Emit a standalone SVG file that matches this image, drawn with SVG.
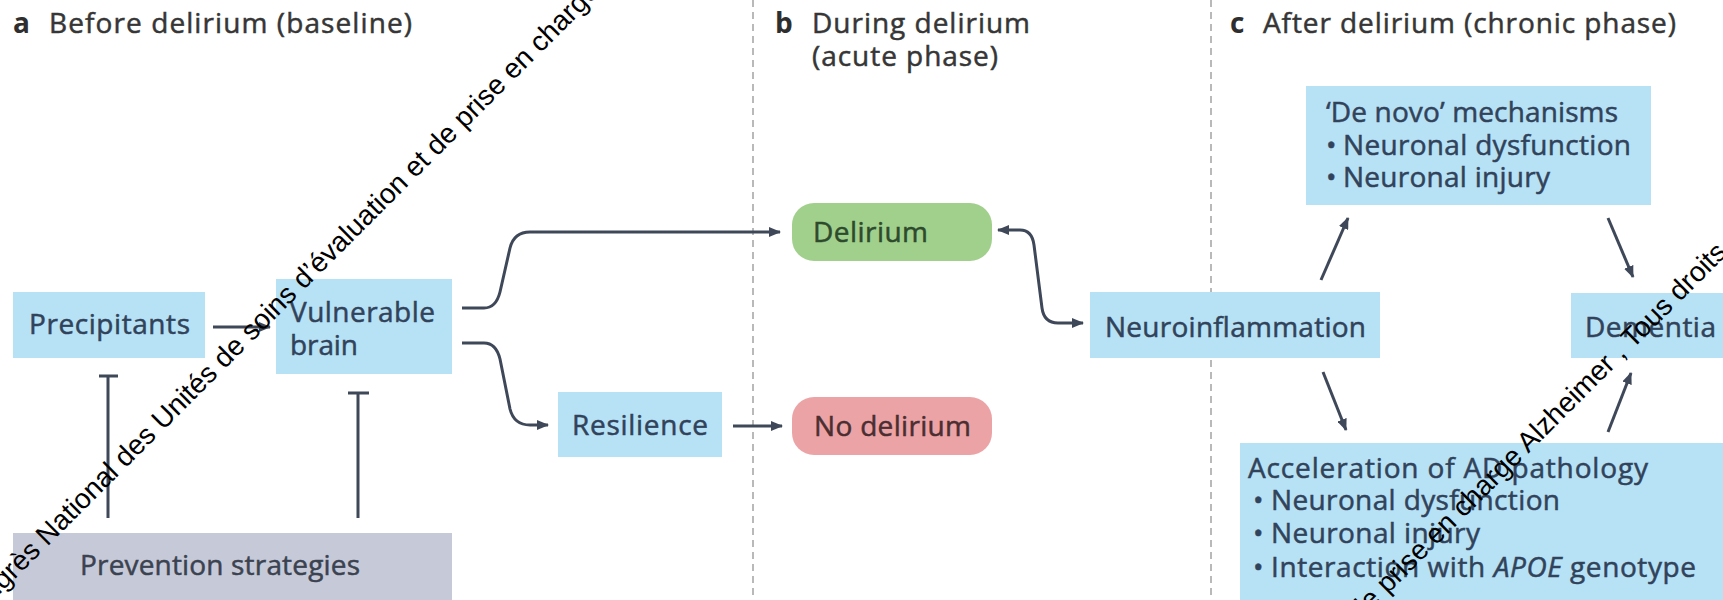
<svg xmlns="http://www.w3.org/2000/svg" width="1723" height="600" viewBox="0 0 1723 600">
<defs>
<style>
.t{font-family:"Open Sans","Liberation Sans",sans-serif;font-size:28px;fill:#363636;stroke:#363636;stroke-width:0.5}
.tb{font-family:"Open Sans","Liberation Sans",sans-serif;font-size:28px;font-weight:bold;fill:#2e2e2e}
.n{font-family:"Open Sans","Liberation Sans",sans-serif;font-size:28px;fill:#31435a;stroke:#31435a;stroke-width:0.5}
.blue{fill:#b7e1f5}
.grey{fill:#c6cad8}
.conn{fill:none;stroke:#3e4859;stroke-width:3}
.dash{fill:none;stroke:#a8a8a8;stroke-width:1.6;stroke-dasharray:7 5}
.wm{font-family:"Liberation Sans",Arial,sans-serif;font-size:28px;fill:#000}
</style>
<marker id="ah" viewBox="0 0 12 10" refX="11" refY="5" markerWidth="12" markerHeight="10" markerUnits="userSpaceOnUse" orient="auto-start-reverse">
<path d="M0,0 L12,5 L0,10 z" fill="#3e4859"/>
</marker>
</defs>
<rect width="1723" height="600" fill="#fff"/>

<g id="titles">
<text class="tb" x="13" y="33">a</text>
<text class="t" x="49" y="33" textLength="363">Before delirium (baseline)</text>
<text class="tb" x="775" y="33">b</text>
<text class="t" x="812" y="33" textLength="218">During delirium</text>
<text class="t" x="812" y="66" textLength="186">(acute phase)</text>
<text class="tb" x="1230" y="33">c</text>
<text class="t" x="1263" y="33" textLength="413">After delirium (chronic phase)</text>
</g>

<g id="dividers">
<path class="dash" d="M753,0 V600"/>
<path class="dash" d="M1211,0 V600"/>
</g>

<g id="connectors">
<path class="conn" d="M213,327 H270" marker-end="url(#ah)"/>
<path class="conn" d="M462,308 H484 Q496,308 500,292 L510,248 Q514,232 530,232 H780" marker-end="url(#ah)"/>
<path class="conn" d="M462,343 H484 Q496,343 500,359 L510,409 Q514,425 530,425 H548" marker-end="url(#ah)"/>
<path class="conn" d="M733,426 H782" marker-end="url(#ah)"/>
<path class="conn" d="M998,230 H1020 Q1032,230 1034,245 L1042,308 Q1044,323 1058,323 H1083" marker-start="url(#ah)" marker-end="url(#ah)"/>
<path class="conn" d="M1321,280 L1348,218" marker-end="url(#ah)"/>
<path class="conn" d="M1608,218 L1633,277" marker-end="url(#ah)"/>
<path class="conn" d="M1323,372 L1346,430" marker-end="url(#ah)"/>
<path class="conn" d="M1608,432 L1631,373" marker-end="url(#ah)"/>
<path class="conn" d="M108,518 V376 M99,376 H118"/>
<path class="conn" d="M358,518 V393 M348,393 H369"/>
</g>

<g id="precipitants">
<rect class="blue" x="13" y="292" width="192" height="66"/>
<text class="n" x="29" y="334" textLength="161">Precipitants</text>
</g>
<g id="vulnerable-brain">
<rect class="blue" x="276" y="279" width="176" height="95"/>
<text class="n" x="290" y="322" textLength="145">Vulnerable</text>
<text class="n" x="290" y="355" textLength="68">brain</text>
</g>
<g id="prevention">
<rect class="grey" x="13" y="533" width="439" height="67"/>
<text class="n" x="80" y="575" textLength="280" style="fill:#3b4250;stroke:#3b4250">Prevention strategies</text>
</g>
<g id="resilience">
<rect class="blue" x="558" y="392" width="164" height="65"/>
<text class="n" x="572" y="435" textLength="136">Resilience</text>
</g>
<g id="delirium">
<rect x="792" y="203" width="200" height="58" rx="22" fill="#a1d08d"/>
<text class="n" x="813" y="242" textLength="115" style="fill:#2e4a2c;stroke:#2e4a2c">Delirium</text>
</g>
<g id="no-delirium">
<rect x="792" y="397" width="200" height="58" rx="22" fill="#eca3a6"/>
<text class="n" x="814" y="436" textLength="157" style="fill:#4a2e31;stroke:#4a2e31">No delirium</text>
</g>
<g id="neuroinflammation">
<rect class="blue" x="1090" y="292" width="290" height="66"/>
<text class="n" x="1105" y="337" textLength="261">Neuroinflammation</text>
</g>
<g id="dementia">
<rect class="blue" x="1571" y="293" width="152" height="65"/>
<text class="n" x="1585" y="337" textLength="131">Dementia</text>
</g>
<g id="de-novo">
<rect class="blue" x="1306" y="86" width="345" height="119"/>
<text class="n" x="1326" y="122" textLength="292">‘De novo’ mechanisms</text>
<text class="n" x="1326" y="155">•</text>
<text class="n" x="1343" y="155" textLength="288">Neuronal dysfunction</text>
<text class="n" x="1326" y="187">•</text>
<text class="n" x="1343" y="187" textLength="207">Neuronal injury</text>
</g>
<g id="acceleration">
<rect class="blue" x="1240" y="443" width="483" height="157"/>
<text class="n" x="1248" y="478" textLength="400">Acceleration of AD pathology</text>
<text class="n" x="1253" y="510">•</text>
<text class="n" x="1271" y="510" textLength="289">Neuronal dysfunction</text>
<text class="n" x="1253" y="543">•</text>
<text class="n" x="1271" y="543" textLength="209">Neuronal injury</text>
<text class="n" x="1253" y="577">•</text>
<text class="n" x="1271" y="577" textLength="425">Interaction with <tspan font-style="italic">APOE</tspan> genotype</text>
</g>

<g id="watermark">
<text class="wm" transform="translate(-33,627) rotate(-45)">Congrès National des Unités de soins d’évaluation et de prise en charge Alzheimer , Tous droits réservés</text>
<text class="wm" transform="translate(890,1092) rotate(-45)">Congrès National des Unités de soins d’évaluation et de prise en charge Alzheimer , Tous droits réservés</text>
</g>
</svg>
